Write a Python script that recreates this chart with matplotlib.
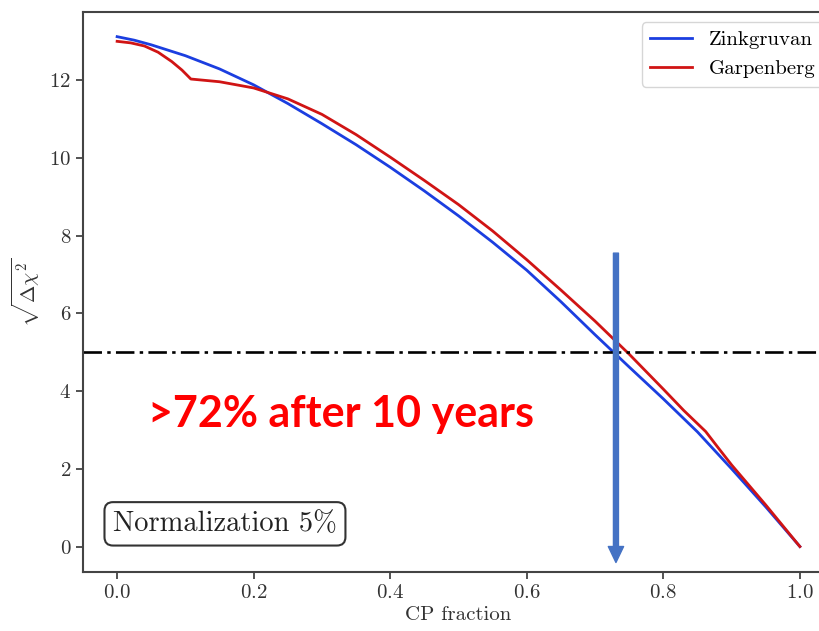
import matplotlib
matplotlib.use("Agg")
import matplotlib.pyplot as plt

plt.rcParams['font.family'] = 'cmr10'
plt.rcParams['mathtext.fontset'] = 'cm'
plt.rcParams['axes.formatter.use_mathtext'] = True

# Zinkgruvan curve
zink_x = [0.0, 0.025, 0.05, 0.1, 0.15, 0.2, 0.25, 0.3, 0.35, 0.4, 0.45, 0.5,
          0.55, 0.6, 0.65, 0.7, 0.75, 0.8, 0.85, 0.9, 0.95, 1.0]
zink_y = [13.12, 13.03, 12.91, 12.63, 12.29, 11.88, 11.4, 10.88, 10.34, 9.76, 9.15,
          8.51, 7.83, 7.11, 6.3, 5.45, 4.62, 3.8, 2.95, 2.0, 1.02, 0.0]

# Garpenberg curve
garp_x = [0.0, 0.02, 0.04, 0.06, 0.08, 0.095, 0.108, 0.15, 0.2, 0.25, 0.3, 0.35,
          0.4, 0.45, 0.5, 0.55, 0.6, 0.65, 0.7, 0.75, 0.8, 0.83, 0.862, 0.88, 0.9,
          0.95, 1.0]
garp_y = [13.0, 12.96, 12.88, 12.72, 12.48, 12.26, 12.03, 11.96, 11.8, 11.52, 11.12,
          10.6, 10.02, 9.42, 8.8, 8.12, 7.38, 6.6, 5.8, 4.95, 4.05, 3.5, 2.96,
          2.55, 2.1, 1.07, 0.0]

threshold = 5
arrow_x = 0.7306
arrow_top = 7.55
arrow_tip = -0.41
note = ">72% after 10 years"
box_label = r"Normalization 5%"

fig = plt.figure(figsize=(8.2, 6.31), dpi=100)
ax = fig.add_axes([0.1012, 0.0935, 0.9159, 0.8875])

ax.plot(zink_x, zink_y, color='#1b3ee0', lw=2.0, label='Zinkgruvan')
ax.plot(garp_x, garp_y, color='#d01414', lw=2.0, label='Garpenberg')
ax.axhline(threshold, color='black', lw=1.9, dashes=(7, 2, 1.3, 2))

ax.set_xlim(-0.05, 1.05)
ax.set_ylim(-0.655, 13.755)
ax.set_xticks([0.0, 0.2, 0.4, 0.6, 0.8, 1.0])
ax.set_yticks([0, 2, 4, 6, 8, 10, 12])
ax.set_xlabel('CP fraction', fontsize=15, color='#333333', labelpad=3)
ax.set_ylabel(r'$\sqrt{\Delta\chi^2}$', fontsize=15, color='#333333', labelpad=5)

for s in ax.spines.values():
    s.set_linewidth(1.5)
    s.set_color('#444444')
ax.spines['right'].set_visible(False)
ax.tick_params(labelsize=15, labelcolor='#333333', color='#444444', width=1.3, length=5)

ax.legend(loc='upper right', fontsize=15, frameon=True, fancybox=True,
          edgecolor='#cccccc', handlelength=2.0)

ax.text(0.04, 0.086, box_label, transform=ax.transAxes, fontsize=20.5,
        ha='left', va='center', color='#222222',
        bbox=dict(boxstyle='round,pad=0.3', fc='white', ec='#333333', lw=1.5))

ax.text(0.045, 3.42, note, fontsize=31, fontweight='bold', family='Lato',
        color='#ff0000', ha='left', va='center')

ax.annotate('', xy=(arrow_x, arrow_tip), xytext=(arrow_x, arrow_top),
            arrowprops=dict(width=3.6, headwidth=11, headlength=11.5,
                            shrink=0, color='#4472c4'))

fig.savefig('out.png', dpi=100)
